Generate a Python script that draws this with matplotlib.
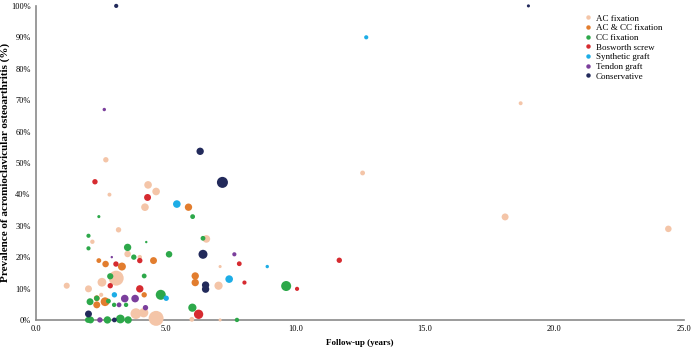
import matplotlib.pyplot as plt
from matplotlib.lines import Line2D
from matplotlib.ticker import PercentFormatter

plt.rcParams['font.family'] = ['Liberation Serif', 'DejaVu Serif']

# follow-up (years), prevalence (%), bubble weight (study size, estimated)
ac_x = [3.18, 2.17, 3.53, 3.09, 2.54, 1.18, 2.02, 2.51, 3.85, 4.15, 4.63, 6.01, 7.1, 7.1,
        6.57, 7.04, 2.69, 2.83, 4.32, 4.63, 4.2, 4.0, 12.6, 18.1, 24.4, 18.7]
ac_y = [28.7, 24.9, 21, 13.3, 12, 10.9, 9.9, 8, 2.0, 2.3, 0.5, 0.2, 0, 17,
        25.8, 10.9, 51, 39.9, 43, 40.9, 35.9, 20, 46.8, 32.8, 29, 69]
ac_n = [15, 10, 22, 116, 40, 19, 25, 9, 60, 45, 116, 12, 5, 5,
        30, 35, 15, 8, 30, 30, 30, 10, 12, 25, 22, 8]

accc_x = [2.42, 2.68, 3.31, 4.53, 4.17, 2.34, 2.66, 2.34, 5.88, 6.14, 6.14]
accc_y = [18.9, 17.8, 17, 18.9, 8, 6.9, 5.8, 4.8, 35.9, 14, 11.9]
accc_n = [12, 22, 33, 25, 15, 18, 40, 25, 28, 28, 28]

cc_x = [2.02, 2.02, 3.53, 3.77, 4.25, 2.86, 4.17, 2.08, 2.34, 2.79, 3.01, 3.47, 5.13,
        4.81, 6.03, 7.75, 6.44, 2.42, 6.04, 9.65, 2.1, 2.75, 3.25, 3.55, 2.0]
cc_y = [26.8, 22.8, 23.1, 20, 24.8, 13.9, 14, 5.8, 6.9, 6.0, 4.8, 4.8, 20.9,
        8, 3.9, 0, 26, 32.9, 32.9, 10.8, 0, 0, 0.3, 0, 0]
cc_n = [9, 9, 28, 15, 3, 20, 12, 25, 15, 12, 10, 10, 22,
        52, 35, 10, 12, 5, 12, 52, 25, 28, 40, 28, 18]

bos_x = [4.0, 3.08, 2.86, 4.0, 2.27, 4.3, 6.27, 7.84, 8.04, 10.07, 11.7]
bos_y = [18.9, 17.8, 10.9, 9.9, 44, 39, 1.8, 17.9, 11.9, 9.9, 19]
bos_n = [15, 15, 15, 28, 15, 25, 45, 12, 9, 9, 15]

syn_x = [3.02, 5.02, 5.43, 7.45, 8.92, 12.74]
syn_y = [8, 6.9, 36.9, 13, 17, 90]
syn_n = [15, 15, 30, 30, 6, 9]

ten_x = [2.92, 3.2, 3.42, 3.82, 4.22, 7.65, 2.63, 2.46]
ten_y = [20, 4.8, 6.8, 6.8, 3.9, 20.9, 67, 0]
ten_n = [3, 12, 30, 30, 15, 9, 6, 15]

con_x = [2.02, 3.02, 6.44, 6.54, 6.54, 7.19, 6.33, 3.09, 19.0]
con_y = [1.9, 0, 20.9, 11.1, 9.8, 43.8, 53.7, 100, 100]
con_n = [25, 12, 42, 28, 28, 63, 28, 9, 5]

groups = ['AC fixation', 'AC & CC fixation', 'CC fixation', 'Bosworth screw',
          'Synthetic graft', 'Tendon graft', 'Conservative']
colors = ['#F4C5A8', '#E27D2E', '#2DA84A', '#D62B30', '#1DADE6', '#7B3F9C', '#222A5B']
data = [(ac_x, ac_y, ac_n), (accc_x, accc_y, accc_n), (cc_x, cc_y, cc_n),
        (bos_x, bos_y, bos_n), (syn_x, syn_y, syn_n), (ten_x, ten_y, ten_n),
        (con_x, con_y, con_n)]

fig = plt.figure(figsize=(6.95, 3.47), dpi=100)
ax = fig.add_axes([0.052, 0.078, 0.932, 0.905])

for (x, y, n), c in zip(data, colors):
    ax.scatter(x, y, s=n, color=c, edgecolors='none', zorder=3, clip_on=False)

ax.set_xlim(0, 25)
ax.set_ylim(0, 100)
ax.set_xticks([0, 5, 10, 15, 20, 25])
ax.set_xticklabels([f'{v:.1f}' for v in [0, 5, 10, 15, 20, 25]])
ax.set_yticks(range(0, 101, 10))
ax.yaxis.set_major_formatter(PercentFormatter(decimals=0))
ax.tick_params(length=0, labelsize=6, pad=4)

for side in ['top', 'right']:
    ax.spines[side].set_visible(False)
for side in ['left', 'bottom']:
    ax.spines[side].set_color('#8a8a8a')
    ax.spines[side].set_linewidth(1.2)

ax.set_xlabel('Follow-up (years)', fontsize=6.5, fontweight='bold', labelpad=4)
ax.set_ylabel('Prevalence of acromioclavicular osteoarthritis (%)', fontsize=8,
              fontweight='bold')
ax.yaxis.set_label_coords(-0.041, 0.5)

handles = [Line2D([], [], marker='o', linestyle='none', markersize=3.2,
                  markerfacecolor=c, markeredgecolor='none') for c in colors]
leg = ax.legend(handles, groups, loc='upper left', bbox_to_anchor=(0.84, 0.985),
                frameon=False, fontsize=6.5, handletextpad=0.3, labelspacing=0.15,
                handlelength=1.0, borderaxespad=0)

fig.savefig('out.png', dpi=100)
